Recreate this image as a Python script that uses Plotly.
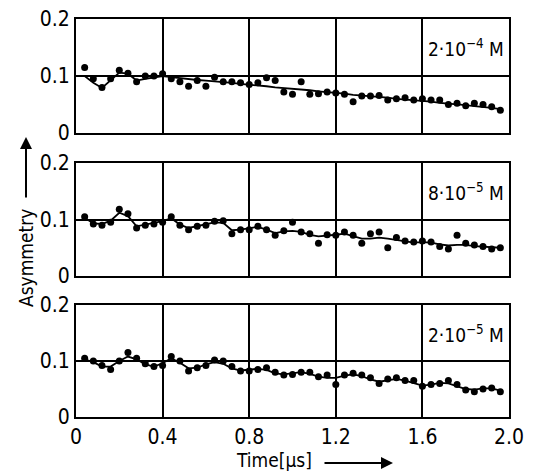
import plotly.graph_objects as go

# ---- data ----
time_us = [0.04, 0.08, 0.12, 0.16, 0.20, 0.24, 0.28, 0.32, 0.36, 0.40,
           0.44, 0.48, 0.52, 0.56, 0.60, 0.64, 0.68, 0.72, 0.76, 0.80,
           0.84, 0.88, 0.92, 0.96, 1.00, 1.04, 1.08, 1.12, 1.16, 1.20,
           1.24, 1.28, 1.32, 1.36, 1.40, 1.44, 1.48, 1.52, 1.56, 1.60,
           1.64, 1.68, 1.72, 1.76, 1.80, 1.84, 1.88, 1.92, 1.96]

labels = ["2·10<sup>−4</sup> M", "8·10<sup>−5</sup> M", "2·10<sup>−5</sup> M"]

asym_2e4 = [0.115, 0.095, 0.080, 0.095, 0.110, 0.105, 0.090, 0.100, 0.100, 0.104,
            0.095, 0.090, 0.082, 0.092, 0.082, 0.098, 0.090, 0.090, 0.088, 0.085,
            0.088, 0.097, 0.092, 0.072, 0.068, 0.090, 0.068, 0.069, 0.072, 0.070,
            0.068, 0.055, 0.065, 0.065, 0.066, 0.058, 0.060, 0.062, 0.058, 0.060,
            0.058, 0.058, 0.050, 0.052, 0.048, 0.052, 0.050, 0.046, 0.040]
fit_2e4 = [0.100, 0.088, 0.079, 0.092, 0.106, 0.104, 0.092, 0.095, 0.098, 0.100,
           0.098, 0.096, 0.095, 0.093, 0.092, 0.091, 0.089, 0.088, 0.086, 0.085,
           0.083, 0.082, 0.080, 0.079, 0.077, 0.076, 0.075, 0.073, 0.072, 0.070,
           0.069, 0.067, 0.066, 0.065, 0.063, 0.062, 0.060, 0.059, 0.057, 0.056,
           0.055, 0.053, 0.052, 0.050, 0.049, 0.047, 0.046, 0.044, 0.042]

asym_8e5 = [0.105, 0.092, 0.090, 0.095, 0.118, 0.110, 0.085, 0.090, 0.092, 0.095,
            0.105, 0.090, 0.082, 0.088, 0.090, 0.097, 0.098, 0.075, 0.082, 0.082,
            0.088, 0.082, 0.072, 0.080, 0.095, 0.078, 0.075, 0.058, 0.073, 0.072,
            0.078, 0.072, 0.058, 0.075, 0.078, 0.050, 0.068, 0.062, 0.060, 0.062,
            0.060, 0.052, 0.048, 0.072, 0.058, 0.055, 0.052, 0.048, 0.050]
fit_8e5 = [0.103, 0.093, 0.092, 0.098, 0.112, 0.106, 0.088, 0.091, 0.093, 0.097,
           0.102, 0.091, 0.085, 0.088, 0.091, 0.095, 0.094, 0.081, 0.082, 0.084,
           0.087, 0.082, 0.076, 0.079, 0.080, 0.078, 0.073, 0.070, 0.071, 0.073,
           0.075, 0.071, 0.066, 0.066, 0.068, 0.066, 0.064, 0.061, 0.059, 0.060,
           0.059, 0.056, 0.054, 0.055, 0.055, 0.053, 0.052, 0.050, 0.050]

asym_2e5 = [0.105, 0.100, 0.092, 0.085, 0.100, 0.115, 0.105, 0.095, 0.090, 0.092,
            0.108, 0.100, 0.082, 0.088, 0.092, 0.102, 0.100, 0.090, 0.082, 0.082,
            0.085, 0.088, 0.080, 0.075, 0.076, 0.080, 0.080, 0.072, 0.075, 0.058,
            0.075, 0.078, 0.075, 0.070, 0.060, 0.068, 0.070, 0.065, 0.065, 0.055,
            0.058, 0.060, 0.065, 0.058, 0.048, 0.045, 0.050, 0.052, 0.045]
fit_2e5 = [0.103, 0.098, 0.090, 0.090, 0.100, 0.108, 0.103, 0.094, 0.090, 0.096,
           0.105, 0.097, 0.087, 0.088, 0.094, 0.098, 0.095, 0.087, 0.083, 0.084,
           0.086, 0.084, 0.078, 0.076, 0.078, 0.080, 0.077, 0.072, 0.070, 0.070,
           0.074, 0.076, 0.073, 0.067, 0.063, 0.066, 0.068, 0.065, 0.060, 0.056,
           0.058, 0.061, 0.060, 0.055, 0.050, 0.049, 0.051, 0.051, 0.047]

series = [(asym_2e4, fit_2e4), (asym_8e5, fit_8e5), (asym_2e5, fit_2e5)]

# ---- figure ----
W, H = 544, 471
ml, mr, mt, mb = 76, 35, 19, 54
plot_w = W - ml - mr
plot_h = H - mt - mb
def fy(ypix):
    return (H - mb - ypix) / plot_h
def fx(xpix):
    return (xpix - ml) / plot_w

panel_px = [(19, 133), (163, 276), (305, 417)]
FONT = "Liberation Sans Narrow, DejaVu Sans Condensed, sans-serif"
TXT = dict(family=FONT, size=21, color="black")
LBL = dict(family=FONT, size=19, color="black")

fig = go.Figure()
for i, ((pts, fit), lab) in enumerate(zip(series, labels)):
    n = i + 1
    xa = "x" if n == 1 else f"x{n}"
    ya = "y" if n == 1 else f"y{n}"
    fig.add_trace(go.Scatter(x=time_us, y=fit, mode="lines",
                             line=dict(color="black", width=1.8),
                             xaxis=xa, yaxis=ya, showlegend=False))
    fig.add_trace(go.Scatter(x=time_us, y=pts, mode="markers",
                             marker=dict(color="black", size=7),
                             xaxis=xa, yaxis=ya, showlegend=False))
    top, bot = panel_px[i]
    axcommon = dict(showline=True, linecolor="black", linewidth=2, mirror=True,
                    showgrid=True, gridcolor="black", gridwidth=1.5,
                    zeroline=False, ticks="", tickfont=TXT, automargin=False)
    fig.layout[f"xaxis{'' if n == 1 else n}"] = dict(
        axcommon, range=[0, 2.0], domain=[0, 1], anchor=ya,
        tickvals=[0, 0.4, 0.8, 1.2, 1.6, 2.0],
        ticktext=["0", "0.4", "0.8", "1.2", "1.6", "2.0"],
        showticklabels=(n == 3))
    fig.layout[f"yaxis{'' if n == 1 else n}"] = dict(
        axcommon, range=[0, 0.2], domain=[fy(bot), fy(top)], anchor=xa,
        tickvals=[0, 0.1, 0.2], ticktext=["0", "0.1", "0.2"])
    fig.add_annotation(text=lab, xref="paper", yref="paper",
                       x=fx(466), y=fy(top + 29), xanchor="center", yanchor="middle",
                       showarrow=False, font=LBL)

# y-axis title with arrow
fig.add_annotation(text="Asymmetry", xref="paper", yref="paper",
                   x=fx(26), y=fy(258), textangle=-90, xanchor="center", yanchor="middle",
                   showarrow=False, font=LBL)
fig.add_annotation(text="", xref="paper", yref="paper",
                   x=fx(26), y=fy(137),
                   ax=0, ay=62, showarrow=True, arrowhead=2, arrowsize=1.2,
                   arrowwidth=2, arrowcolor="black")
# x-axis title with arrow
fig.add_annotation(text="Time[µs]", xref="paper", yref="paper",
                   x=fx(274), y=fy(460), xanchor="center", yanchor="middle",
                   showarrow=False, font=LBL)
fig.add_annotation(text="", xref="paper", yref="paper",
                   x=fx(393), y=fy(463),
                   ax=-70, ay=0, showarrow=True, arrowhead=2, arrowsize=1.2,
                   arrowwidth=2, arrowcolor="black")

fig.update_layout(width=W, height=H, margin=dict(l=ml, r=mr, t=mt, b=mb),
                  plot_bgcolor="white", paper_bgcolor="white")
fig.write_html("out.html")
